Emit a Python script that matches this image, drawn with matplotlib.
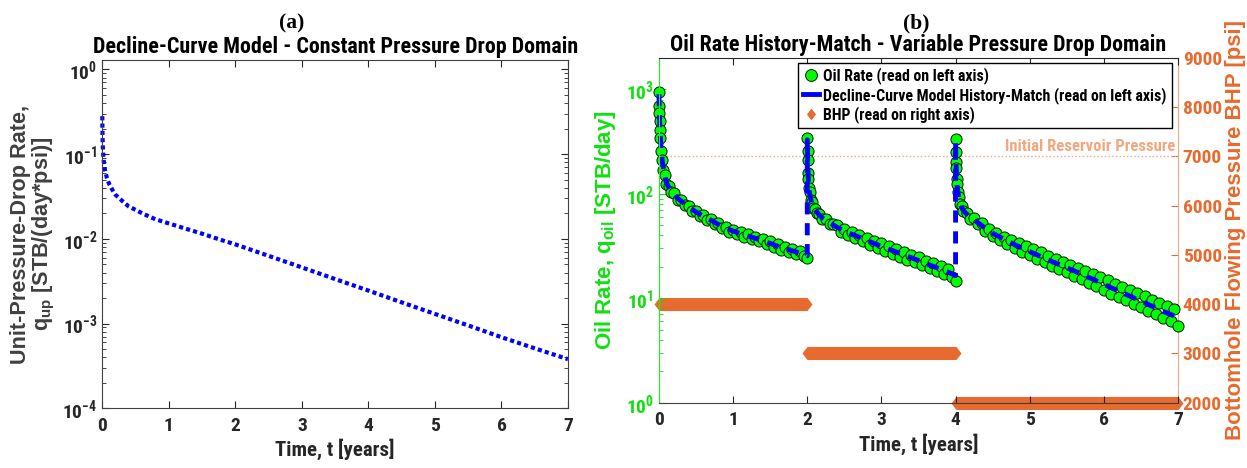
import matplotlib
matplotlib.use('Agg')
import matplotlib.pyplot as plt
from matplotlib import font_manager
from matplotlib.lines import Line2D
from matplotlib.ticker import LogLocator, NullFormatter

# ---- panel (a): unit-pressure-drop rate ----
qup_time = [0, 0.002, 0.005, 0.01, 0.02, 0.04, 0.07, 0.1, 0.15, 0.2, 0.3, 0.4, 0.5, 0.6, 0.8,
            1.0, 1.25, 1.5, 1.75, 2.0, 2.5, 3.0, 3.5, 4.0, 4.5, 5.0, 5.5, 6.0, 6.5, 7.0]
qup_rate = [0.28, 0.2, 0.15, 0.11, 0.085, 0.065, 0.052, 0.045, 0.038, 0.033, 0.028, 0.024, 0.022,
            0.020, 0.017, 0.0152, 0.0132, 0.0115, 0.0099, 0.0086, 0.0063, 0.0046, 0.00335, 0.00245,
            0.00178, 0.0013, 0.00095, 0.00069, 0.00051, 0.00038]

# ---- panel (b): oil rate history (observed) ----
oil_t1 = [0, 0.003, 0.006, 0.01, 0.015, 0.02, 0.03, 0.045, 0.06, 0.08, 0.1, 0.13, 0.16, 0.2, 0.25,
          0.3, 0.35, 0.4, 0.45, 0.5, 0.55, 0.6, 0.65, 0.7, 0.75, 0.8, 0.85, 0.9, 0.95, 1.0, 1.05,
          1.1, 1.15, 1.2, 1.25, 1.3, 1.35, 1.4, 1.45, 1.5, 1.55, 1.6, 1.65, 1.7, 1.75, 1.8, 1.85,
          1.9, 1.95, 2.0]
oil_q1 = [935, 690, 600, 500, 410, 340, 255, 210, 170, 152, 125, 118, 104, 101, 88, 87, 78, 77, 69,
          68.5, 62, 63, 56.5, 57.5, 51.5, 52.5, 47.5, 48.5, 43.5, 45.5, 41, 43, 39, 41, 37, 39, 35,
          37, 33, 35, 31, 33, 29.3, 31.3, 27.8, 29.8, 26.4, 28.2, 25.5, 24.5]
oil_t2 = [2.0, 2.003, 2.006, 2.01, 2.015, 2.02, 2.03, 2.045, 2.06, 2.08, 2.1, 2.13, 2.16, 2.2, 2.25,
          2.3, 2.35, 2.4, 2.45, 2.5, 2.55, 2.6, 2.65, 2.7, 2.75, 2.8, 2.85, 2.9, 2.95, 3.0, 3.05,
          3.1, 3.15, 3.2, 3.25, 3.3, 3.35, 3.4, 3.45, 3.5, 3.55, 3.6, 3.65, 3.7, 3.75, 3.8, 3.85,
          3.9, 3.95, 4.0]
oil_q2 = [345, 255, 210, 160, 138, 115, 104, 88, 83, 73, 72, 65, 64, 57, 57, 51, 52, 50, 43.5, 46,
          40.5, 43, 37.5, 40.5, 35, 38, 32.5, 35.5, 30.5, 33.5, 28.5, 31.5, 26.8, 29.6, 25.1, 27.8,
          23.5, 26.2, 22.1, 24.6, 20.7, 23, 19.4, 21.6, 18.2, 20.3, 17.1, 19.1, 15.9, 14.5]
oil_t3 = [4.0, 4.003, 4.006, 4.01, 4.015, 4.02, 4.03, 4.045, 4.06, 4.08, 4.1, 4.15, 4.2, 4.25, 4.3,
          4.35, 4.4, 4.45, 4.5, 4.55, 4.6, 4.65, 4.7, 4.75, 4.8, 4.85, 4.9, 4.95, 5.0, 5.05, 5.1,
          5.15, 5.2, 5.25, 5.3, 5.35, 5.4, 5.45, 5.5, 5.55, 5.6, 5.65, 5.7, 5.75, 5.8, 5.85, 5.9,
          5.95, 6.0, 6.05, 6.1, 6.15, 6.2, 6.25, 6.3, 6.35, 6.4, 6.45, 6.5, 6.55, 6.6, 6.65, 6.7,
          6.75, 6.8, 6.85, 6.9, 6.95, 7.0]
oil_q3 = [335, 250, 200, 175, 138, 123, 104, 94, 80, 76, 68, 65, 58, 59, 51, 52.5, 44.5, 46.5, 39.5,
          42.5, 36, 39, 33, 36.5, 30.5, 33.5, 28, 31.5, 26, 29.5, 24, 27.5, 22.3, 25.5, 20.6, 23.9,
          19.1, 22.4, 17.8, 20.9, 16.5, 19.6, 15.3, 18.2, 14.1, 17.0, 13.1, 15.9, 12.0, 14.8, 11.1,
          13.8, 10.3, 12.9, 9.6, 12.0, 8.9, 11.2, 8.2, 10.4, 7.6, 9.7, 7.0, 9.0, 6.5, 8.4, 6.1, 7.9, 5.4]

# ---- decline-curve model history-match ----
model_t = [0, 0.003, 0.006, 0.01, 0.015, 0.02, 0.03, 0.045, 0.06, 0.08, 0.1, 0.13, 0.16, 0.2, 0.25,
           0.3, 0.35, 0.4, 0.5, 0.6, 0.7, 0.8, 0.9, 1.0, 1.1, 1.2, 1.3, 1.4, 1.5, 1.6, 1.7, 1.8, 1.9, 2.0,
           2.0, 2.003, 2.006, 2.01, 2.015, 2.02, 2.03, 2.045, 2.06, 2.08, 2.1, 2.13, 2.16, 2.2, 2.25,
           2.3, 2.4, 2.5, 2.6, 2.7, 2.8, 2.9, 3.0, 3.1, 3.2, 3.3, 3.4, 3.5, 3.6, 3.7, 3.8, 3.9, 4.0,
           4.0, 4.003, 4.006, 4.01, 4.015, 4.02, 4.03, 4.045, 4.06, 4.08, 4.1, 4.15, 4.2, 4.3, 4.4,
           4.5, 4.6, 4.7, 4.8, 4.9, 5.0, 5.1, 5.2, 5.3, 5.4, 5.5, 5.6, 5.7, 5.8, 5.9, 6.0, 6.1, 6.2,
           6.3, 6.4, 6.5, 6.6, 6.7, 6.8, 6.9, 7.0]
model_q = [900, 680, 570, 470, 390, 330, 260, 205, 175, 148, 128, 116, 108, 99, 91, 85, 80, 75, 67,
           61, 56, 51, 47, 44, 41.5, 39.5, 37.5, 35.5, 33.5, 31.5, 30, 28.5, 27, 25.5,
           330, 250, 205, 165, 135, 118, 102, 90, 82, 75, 71, 67, 63, 59, 56, 53, 48, 44, 41, 38.5,
           36, 33.5, 31.5, 29.5, 27.8, 26, 24.5, 23, 21.5, 20.2, 19, 17.8, 16.5,
           320, 245, 205, 170, 140, 120, 106, 92, 82, 75, 70, 64, 60, 53, 47, 42, 38.5, 35.5, 32.5,
           30.2, 28, 26, 24.2, 22.5, 21, 19.6, 18.3, 17, 15.8, 14.7, 13.6, 12.6, 11.7, 10.9, 10.1,
           9.4, 8.7, 8.1, 7.5, 7.0, 6.6]

# ---- bottomhole pressure schedule ----
bhp_start = [0, 2, 4]
bhp_end = [2, 4, 7]
bhp_psi = [4000, 3000, 2000]
p_init = 7000

# pick a condensed sans for the MATLAB-like look, if one is installed
fonts = font_manager.fontManager.ttflist
avail = {f.name for f in fonts}
stretch = 'normal'
narrow = None
for c in ['Liberation Sans Narrow', 'Roboto Condensed', 'DejaVu Sans Condensed',
          'Open Sans Condensed', 'Arial Narrow']:
    if c in avail:
        narrow = c
        break
if narrow is None and any(f.name == 'DejaVu Sans' and f.stretch == 'condensed' for f in fonts):
    narrow, stretch = 'DejaVu Sans', 'condensed'
k = 1.0
if narrow is None:
    narrow, k = 'Liberation Sans', 0.86

plt.rcParams['font.family'] = [narrow, 'DejaVu Sans']
plt.rcParams['font.stretch'] = stretch
plt.rcParams['font.weight'] = 'bold'
plt.rcParams['axes.titleweight'] = 'bold'
plt.rcParams['axes.labelweight'] = 'bold'
plt.rcParams['font.size'] = 14 * k
plt.rcParams['mathtext.default'] = 'regular'
wide = ['Liberation Sans', 'DejaVu Sans']

green = '#00FF00'
green_txt = '#10E010'
orange = '#E76A2E'
orange_lt = '#F2A77E'
dark = '#262626'
diamond = [(-0.77, 0), (0, 1), (0.77, 0), (0, -1)]

W, H = 1247, 468
fig = plt.figure(figsize=(W / 100, H / 100), dpi=100)

# ================= panel (a) =================
ax1 = fig.add_axes([102.3 / W, 1 - 408.3 / H, 465.7 / W, 348.3 / H])
ax1.plot(qup_time, qup_rate, color='#0000FF', lw=3, linestyle=(0, (1, 0.75)), clip_on=False)
ax1.set_yscale('log')
ax1.set_xlim(0, 7)
ax1.set_ylim(1e-4, 1.29)
ax1.set_xticks(range(8))
ax1.set_yticks([1e-4, 1e-3, 1e-2, 1e-1, 1e0])
ax1.yaxis.set_minor_locator(LogLocator(subs=range(2, 10)))
ax1.yaxis.set_minor_formatter(NullFormatter())
ax1.tick_params(which='both', direction='in', top=True, right=True, colors=dark)
ax1.tick_params(which='major', length=5)
ax1.tick_params(which='minor', length=3)
ax1.tick_params(axis='x', pad=6)
for s in ax1.spines.values():
    s.set_color('#404040')
ax1.set_title('Decline-Curve Model - Constant Pressure Drop Domain', fontsize=15.8 * k, pad=5)
ax1.set_xlabel('Time, t [years]', color=dark, labelpad=3, fontsize=15 * k)
ax1.set_ylabel('Unit-Pressure-Drop Rate,\nq$_{up}$ [STB/(day*psi)]', color='#404040',
               family=wide, fontsize=15.6, linespacing=1.0)
ax1.yaxis.set_label_coords(-0.097, 0.5)

# ================= panel (b) =================
ax = fig.add_axes([659 / W, 1 - 402.7 / H, 519 / W, 344.7 / H])
ax2 = ax.twinx()
ax.set_zorder(ax2.get_zorder() + 1)
ax.patch.set_visible(False)

for t0, t1, p in zip(bhp_start, bhp_end, bhp_psi):
    ax2.plot([t0, t1], [p, p], color=orange, lw=9.4, solid_capstyle='butt', clip_on=False)
    ax2.plot([t0, t1], [p, p], ls='none', marker=diamond, ms=9.4, mfc=orange, mec='none',
             clip_on=False)
ax2.axhline(p_init, color=orange_lt, ls=':', lw=1)
ax2.annotate('Initial Reservoir Pressure', xy=(7, p_init), xytext=(-2, 2),
             textcoords='offset points', ha='right', va='bottom', color=orange_lt,
             fontsize=12 * k)

for tt, qq in [(oil_t1, oil_q1), (oil_t2, oil_q2), (oil_t3, oil_q3)]:
    ax.plot(tt, qq, ls='none', marker='o', ms=8, mfc=green, mec='#041804', mew=0.7,
            clip_on=False)
ax.plot(model_t, model_q, color='#0000FF', lw=3.5, linestyle=(0, (2.5, 1.8)), clip_on=False)

ax.set_yscale('log')
ax.set_xlim(0, 7)
ax.set_ylim(1, 2000)
ax.set_xticks(range(8))
ax.set_yticks([1, 10, 100, 1000])
ax.yaxis.set_minor_locator(LogLocator(subs=range(2, 10)))
ax.yaxis.set_minor_formatter(NullFormatter())
ax.tick_params(axis='x', which='both', direction='in', top=True, colors=dark, length=5, pad=6)
ax.tick_params(axis='y', which='both', direction='in', right=False, colors=green_txt)
ax.tick_params(axis='y', which='major', length=5)
ax.tick_params(axis='y', which='minor', length=3)
ax.spines['left'].set_color('#22EE22')
ax.spines['right'].set_visible(False)
ax.spines['top'].set_color(dark)
ax.spines['bottom'].set_color('#404040')

ax2.set_ylim(2000, 9000)
ax2.set_yticks(range(2000, 9001, 1000))
ax2.tick_params(axis='y', direction='in', length=5, colors=orange)
ax2.spines['right'].set_color(orange_lt)
for side in ['left', 'top', 'bottom']:
    ax2.spines[side].set_visible(False)

ax.set_title('Oil Rate History-Match - Variable Pressure Drop Domain', fontsize=15.8 * k, pad=5)
ax.set_xlabel('Time, t [years]', color=dark, labelpad=3, fontsize=15 * k)
ax.set_ylabel('Oil Rate, q$_{oil}$ [STB/day]', color=green_txt, family=wide, fontsize=16)
ax.yaxis.set_label_coords(-0.079, 0.5)
ax2.set_ylabel('Bottomhole Flowing Pressure BHP [psi]', color=orange, family=wide, fontsize=16)
ax2.yaxis.set_label_coords(1.0906, 0.5)

handles = [
    Line2D([], [], ls='none', marker='o', ms=8.5, mfc=green, mec='#041804', mew=0.7),
    Line2D([], [], color='#0000FF', lw=3.5),
    Line2D([], [], ls='none', marker=diamond, ms=8.5, mfc=orange, mec='none'),
]
labels = ['Oil Rate (read on left axis)',
          'Decline-Curve Model History-Match (read on left axis)',
          'BHP (read on right axis)']
leg = ax.legend(handles, labels, loc='upper right', bbox_to_anchor=(1171.7 / W, 1 - 62.7 / H),
                bbox_transform=fig.transFigure, borderaxespad=0, fancybox=False,
                edgecolor='k', framealpha=1, fontsize=11.4 * k, labelspacing=0.15,
                handlelength=1.0, handletextpad=0.3, borderpad=0.3)
leg.get_frame().set_linewidth(1)

fig.text(292 / W, 1 - 23 / H, '(a)', ha='center', va='center', fontsize=15.5, fontweight='bold',
         family=['Liberation Serif', 'DejaVu Serif'])
fig.text(916 / W, 1 - 23 / H, '(b)', ha='center', va='center', fontsize=15.5, fontweight='bold',
         family=['Liberation Serif', 'DejaVu Serif'])

fig.savefig('out.png', dpi=100)
